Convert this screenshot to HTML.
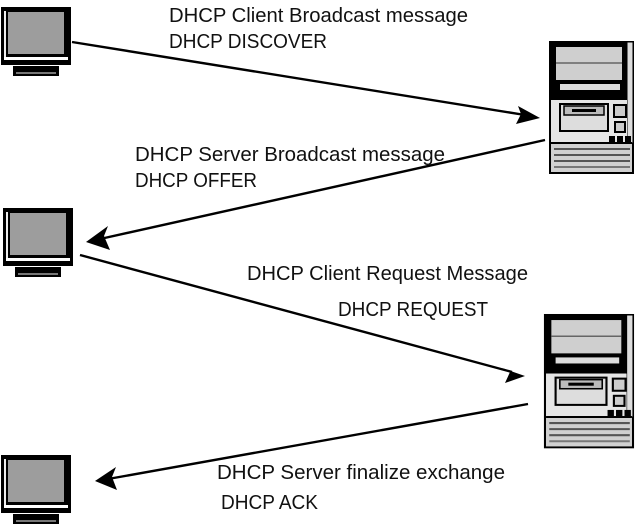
<!DOCTYPE html>
<html><head><meta charset="utf-8"><style>
html,body{margin:0;padding:0;background:#fff;width:640px;height:526px;overflow:hidden}
</style></head><body>
<svg width="640" height="526" viewBox="0 0 640 526" xmlns="http://www.w3.org/2000/svg">
<defs>
<g id="mon">
<rect x="0" y="0" width="70" height="58" fill="#000"/>
<rect x="7" y="5" width="56" height="42" fill="#9d9d9d"/>
<rect x="3" y="50" width="64" height="3" fill="#fff"/>
<rect x="3" y="4" width="2" height="46" fill="#eee"/>
<rect x="12" y="59" width="46" height="10" fill="#000"/>
<rect x="15" y="65" width="40" height="2" fill="#777"/>
</g>
<g id="srv">
<rect x="0" y="0" width="83" height="131" fill="#dedede" stroke="#000" stroke-width="2"/>
<rect x="0" y="0" width="77" height="58" fill="#000"/>
<rect x="6" y="5" width="66" height="33" fill="#cfcfcf"/>
<line x1="6" y1="21" x2="72" y2="21" stroke="#666" stroke-width="1.5"/>
<rect x="10" y="42" width="60" height="6" fill="#ddd"/>
<rect x="77" y="0" width="6" height="101" fill="#ddd" stroke="#000" stroke-width="1"/>
<rect x="1" y="58" width="76" height="43" fill="#e6e6e6"/>
<rect x="10" y="62" width="48" height="27" fill="#ddd" stroke="#000" stroke-width="2"/>
<rect x="14" y="64" width="40" height="9" fill="#bbb" stroke="#000" stroke-width="1.5"/>
<rect x="22" y="67" width="24" height="3" fill="#000"/>
<rect x="64" y="63" width="12" height="12" fill="#ccc" stroke="#000" stroke-width="2"/>
<rect x="65" y="80" width="10" height="10" fill="#ccc" stroke="#000" stroke-width="2"/>
<rect x="59" y="94" width="6" height="6" fill="#000"/>
<rect x="67" y="94" width="6" height="6" fill="#000"/>
<rect x="75" y="94" width="6" height="6" fill="#000"/>
<rect x="1" y="101" width="81" height="29" fill="#d0d0d0"/>
<line x1="1" y1="101" x2="82" y2="101" stroke="#000" stroke-width="2"/>
<line x1="4" y1="107" x2="80" y2="107" stroke="#555" stroke-width="2"/>
<line x1="4" y1="113" x2="80" y2="113" stroke="#555" stroke-width="2"/>
<line x1="4" y1="119" x2="80" y2="119" stroke="#555" stroke-width="2"/>
<line x1="4" y1="125" x2="80" y2="125" stroke="#777" stroke-width="2"/>
</g>
</defs>
<use href="#mon" x="1" y="7"/>
<use href="#mon" x="3" y="208"/>
<use href="#mon" x="1" y="455"/>
<use href="#srv" transform="translate(550,42)"/>
<use href="#srv" transform="translate(545,315) scale(1.06,1.01)"/>
<g stroke="#000" stroke-width="2.4" fill="none">
<line x1="72" y1="42" x2="525" y2="115"/>
<line x1="545" y1="140" x2="100" y2="239"/>
<line x1="80" y1="255" x2="512" y2="372"/>
<line x1="528" y1="404" x2="108" y2="479"/>
</g>
<g fill="#000">
<polygon points="540,118 518,106 521,114 516,124"/>
<polygon points="86,242 108,226 104,236 110,250"/>
<polygon points="525,376 502,368 510,372 505,383"/>
<polygon points="95,481 116,467 112,477 117,490"/>
</g>
<g font-family="Liberation Sans, DejaVu Sans, sans-serif" font-size="20" fill="#111">
<text x="169" y="22" textLength="299" lengthAdjust="spacingAndGlyphs">DHCP Client Broadcast message</text>
<text x="169" y="48" textLength="158" lengthAdjust="spacingAndGlyphs">DHCP DISCOVER</text>
<text x="135" y="161" textLength="310" lengthAdjust="spacingAndGlyphs">DHCP Server Broadcast message</text>
<text x="135" y="187" textLength="122" lengthAdjust="spacingAndGlyphs">DHCP OFFER</text>
<text x="247" y="280" textLength="281" lengthAdjust="spacingAndGlyphs">DHCP Client Request Message</text>
<text x="338" y="316" textLength="150" lengthAdjust="spacingAndGlyphs">DHCP REQUEST</text>
<text x="217" y="479" textLength="288" lengthAdjust="spacingAndGlyphs">DHCP Server finalize exchange</text>
<text x="221" y="509" textLength="97" lengthAdjust="spacingAndGlyphs">DHCP ACK</text>
</g>
</svg>
</body></html>
